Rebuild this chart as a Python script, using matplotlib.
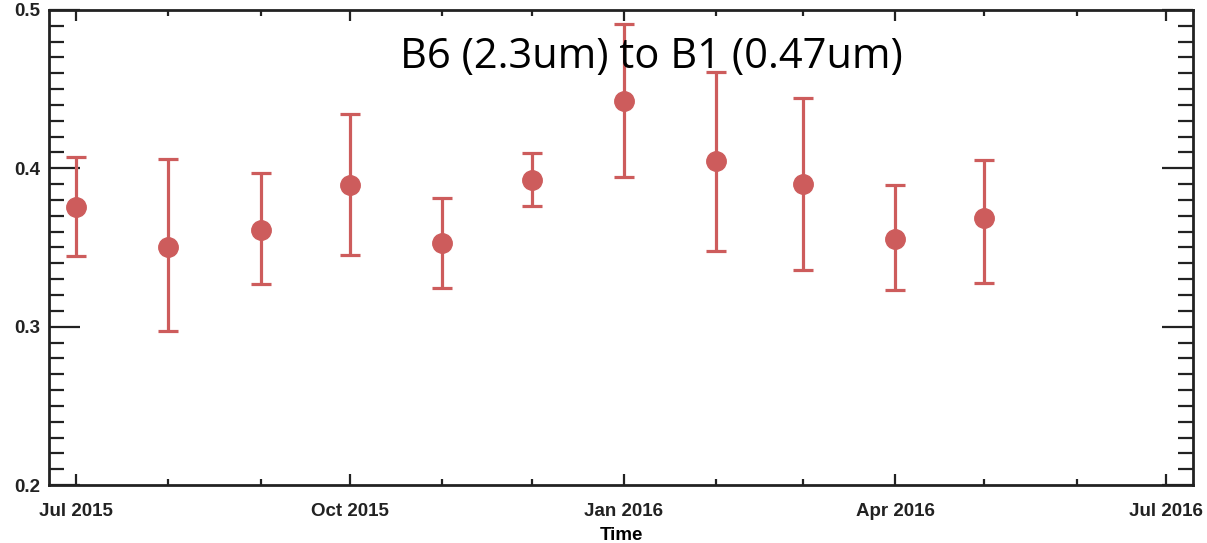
import numpy as np
import matplotlib
matplotlib.use("Agg")
import matplotlib.pyplot as plt
import matplotlib.dates as mdates
from datetime import datetime

# monthly values
months = ["2015-07-01", "2015-08-01", "2015-09-01", "2015-10-01", "2015-11-01", "2015-12-01",
          "2016-01-01", "2016-02-01", "2016-03-01", "2016-04-01", "2016-05-01"]
ratio = [0.3756, 0.3503, 0.3610, 0.3895, 0.3529, 0.3927, 0.4426, 0.4047, 0.3900, 0.3554, 0.3687]
err_hi = [0.4072, 0.4060, 0.3970, 0.4344, 0.3813, 0.4098, 0.4912, 0.4609, 0.4445, 0.3895, 0.4053]
err_lo = [0.3447, 0.2973, 0.3270, 0.3453, 0.3244, 0.3763, 0.3946, 0.3480, 0.3358, 0.3232, 0.3276]

dates = [datetime.strptime(m, "%Y-%m-%d") for m in months]
ratio = np.array(ratio)
yerr = (ratio - np.array(err_lo), np.array(err_hi) - ratio)

red = "#cd5c5c"

fig = plt.figure(figsize=(12.07, 5.43), dpi=100)
ax = fig.add_axes([0.0406, 0.1068, 0.9478, 0.8748])

ax.errorbar(dates, ratio, yerr=yerr, fmt="o", color=red, ecolor=red,
            markersize=14, elinewidth=2.3, capsize=7, capthick=2.3)

ax.set_xlim(datetime(2015, 6, 22), datetime(2016, 7, 10))
ax.set_ylim(0.2, 0.5)

ax.xaxis.set_major_locator(mdates.MonthLocator(bymonth=[1, 4, 7, 10]))
ax.xaxis.set_minor_locator(mdates.MonthLocator())
ax.xaxis.set_major_formatter(mdates.DateFormatter("%b %Y"))
ax.set_yticks([0.2, 0.3, 0.4, 0.5])
ax.set_yticks(np.arange(0.2, 0.5, 0.01), minor=True)
ax.yaxis.set_major_formatter(matplotlib.ticker.FormatStrFormatter("%.1f"))

ax.tick_params(which="both", direction="in", top=True, right=True, colors="#222222",
               labelsize=13.5, width=1.6)
ax.tick_params(axis="x", which="major", length=8, pad=13)
ax.tick_params(axis="x", which="minor", length=4)
ax.tick_params(axis="y", which="major", length=22, pad=6.5)
ax.tick_params(axis="y", which="minor", length=11)
for lab in ax.get_xticklabels() + ax.get_yticklabels():
    lab.set_fontweight("bold")
    lab.set_family("Liberation Sans")

for sp in ax.spines.values():
    sp.set_linewidth(2)
    sp.set_color("#222222")

ax.set_xlabel("Time", fontsize=13.5, fontweight="bold", family="Liberation Sans", labelpad=5)

fig.text(0.540, 0.8748, "B6 (2.3um) to B1 (0.47um)", fontsize=30, family="Open Sans",
         ha="center", va="baseline")

fig.savefig("out.png", dpi=100)
